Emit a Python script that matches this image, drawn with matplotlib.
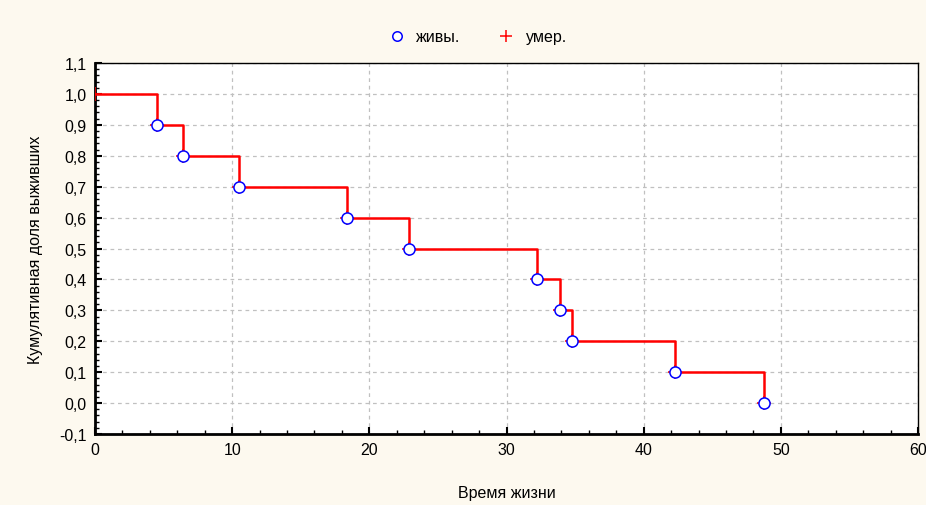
import matplotlib
matplotlib.use("Agg")
import matplotlib.pyplot as plt
from matplotlib.ticker import MultipleLocator, FuncFormatter

plt.rcParams['font.family'] = ['Liberation Sans', 'DejaVu Sans']

times = [0, 4.5, 6.4, 10.5, 18.4, 22.9, 32.2, 33.9, 34.8, 42.3, 48.8]
surv = [1.0, 0.9, 0.8, 0.7, 0.6, 0.5, 0.4, 0.3, 0.2, 0.1, 0.0]
alive_t = times[1:]
alive_s = surv[1:]
dead_t = times
dead_s = surv

bg = '#fdf9ef'
fig = plt.figure(figsize=(9.26, 5.06), dpi=100, facecolor=bg)
ax = fig.add_axes([0.1026, 0.1403, 0.8888, 0.7332])
ax.set_facecolor('white')

ax.step(times, surv, where='post', color='#ff0000', lw=1.8, zorder=3)
ax.plot(dead_t, dead_s, ls='none', marker='+', ms=10, mew=1.1, color='#ff0000', zorder=4, label='умер.')
ax.plot(alive_t, alive_s, ls='none', marker='o', ms=8, mew=1.1, mfc='white', mec='#0000ff', zorder=5, label='живы.')

ax.set_xlim(0, 60)
ax.set_ylim(-0.1, 1.1)
ax.xaxis.set_major_locator(MultipleLocator(10))
ax.xaxis.set_minor_locator(MultipleLocator(2))
ax.yaxis.set_major_locator(MultipleLocator(0.1))
ax.yaxis.set_minor_locator(MultipleLocator(0.02))
ax.yaxis.set_major_formatter(FuncFormatter(lambda v, p: f"{v:.1f}".replace('.', ',').replace('-0,0', '0,0')))
ax.xaxis.set_major_formatter(FuncFormatter(lambda v, p: f"{v:.0f}"))
ax.tick_params(which='major', direction='in', length=5, width=1.5, labelsize=11.5, pad=6, top=False, right=False)
ax.tick_params(which='minor', direction='in', length=3, width=1, top=False, right=False)
ax.grid(True, which='major', ls=(0, (3, 3)), color='#c0c0c0', lw=0.9)
for s in ax.spines.values():
    s.set_linewidth(2)
    s.set_color('black')
for s in ['top', 'right']:
    ax.spines[s].set_linewidth(1)

ax.set_xlabel('Время жизни', fontsize=11.5, labelpad=20)
ax.set_ylabel('Кумулятивная доля выживших', fontsize=11.5, labelpad=12)

h, l = ax.get_legend_handles_labels()
fig.legend([h[1], h[0]], [l[1], l[0]], loc='center', bbox_to_anchor=(0.515, 0.925), ncol=2,
           frameon=False, fontsize=11.5, handlelength=1.2, columnspacing=2.3, handletextpad=0.6,
           markerscale=0.85)

fig.savefig('out.png', dpi=100, facecolor=bg)
